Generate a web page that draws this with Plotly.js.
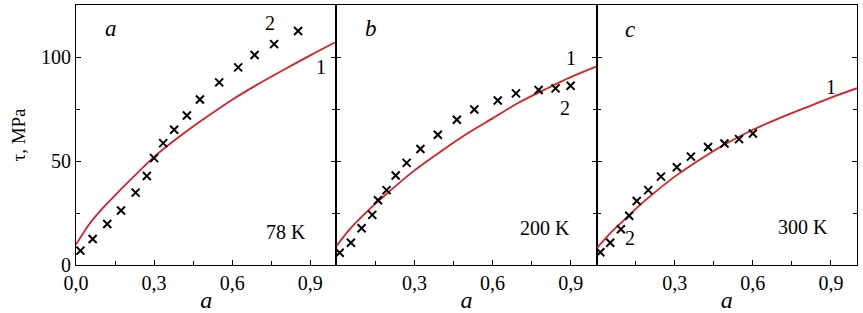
<!DOCTYPE html>
<html>
<head>
<meta charset="utf-8">
<script src="https://cdn.plot.ly/plotly-3.0.1.min.js"></script>
<style>html,body{margin:0;padding:0;background:#fff;}#chart{width:863px;height:313px;}</style>
</head>
<body>
<div id="chart"></div>
<script>
// Curve 1 (model), panel a: 78 K
const curveA_x = [0, 0.05, 0.1, 0.15, 0.2, 0.3, 0.4, 0.5, 0.6, 0.7, 0.8, 0.9, 1.0];
const curveA_y = [9.8, 19.5, 27, 33.5, 39.8, 52, 62, 71, 79.5, 87, 94, 100.8, 107.3];
// Curve 2 (experiment), panel a
const ptsA_x = [0.017, 0.064, 0.12, 0.173, 0.229, 0.272, 0.30, 0.335, 0.377, 0.426, 0.476, 0.55, 0.623, 0.686, 0.761, 0.853];
const ptsA_y = [6.9, 12.5, 19.7, 26.2, 34.8, 42.8, 51.4, 58.6, 65, 71.9, 79.6, 87.8, 95, 101, 106.2, 112.5];

// panel b: 200 K
const curveB_x = [0, 0.05, 0.1, 0.15, 0.2, 0.3, 0.4, 0.5, 0.6, 0.7, 0.8, 0.9, 1.0];
const curveB_y = [9, 17, 23.5, 29.5, 35, 45.5, 54.5, 63, 70.5, 78, 84.3, 90.3, 95.5];
const ptsB_x = [0.013, 0.056, 0.097, 0.138, 0.160, 0.193, 0.228, 0.270, 0.323, 0.39, 0.463, 0.53, 0.62, 0.69, 0.777, 0.842, 0.90];
const ptsB_y = [5.9, 10.7, 17.7, 24.1, 31.1, 36, 43, 49.1, 55.8, 62.6, 69.8, 74.8, 79.1, 82.5, 84.1, 84.9, 86.2];

// panel c: 300 K
const curveC_x = [0, 0.05, 0.1, 0.15, 0.2, 0.3, 0.4, 0.5, 0.6, 0.7, 0.8, 0.9, 1.0];
const curveC_y = [8, 15, 21, 27, 32.5, 42.5, 51, 58.5, 65, 70.5, 75.5, 80.5, 85];
const ptsC_x = [0.014, 0.052, 0.093, 0.125, 0.154, 0.198, 0.247, 0.308, 0.362, 0.428, 0.491, 0.547, 0.6];
const ptsC_y = [6.1, 10.7, 17.2, 23.7, 30.8, 36, 42.5, 47, 52.1, 56.7, 58.4, 60.5, 63.2];

const xTickVals = [0, 0.3, 0.6, 0.9];
const xTickText = ['0,0', '0,3', '0,6', '0,9'];
const yTickVals = [0, 50, 100];
const yTickText = ['0', '50', '100'];

const FONT = 'Liberation Serif';
const RED = 'rgb(222,30,38)';

function lineTrace(x, y, n) {
  return {x: x, y: y, mode: 'lines', line: {color: RED, width: 1.8, shape: 'spline', smoothing: 0.8},
          xaxis: 'x' + n, yaxis: 'y' + n, showlegend: false, hoverinfo: 'skip'};
}
function ptsTrace(x, y, n) {
  return {x: x, y: y, mode: 'markers',
          marker: {symbol: 'x-thin', size: 8, color: '#000', line: {color: '#000', width: 2}},
          xaxis: 'x' + n, yaxis: 'y' + n, showlegend: false, hoverinfo: 'skip'};
}

const data = [
  lineTrace(curveA_x, curveA_y, ''), ptsTrace(ptsA_x, ptsA_y, ''),
  lineTrace(curveB_x, curveB_y, '2'), ptsTrace(ptsB_x, ptsB_y, '2'),
  lineTrace(curveC_x, curveC_y, '3'), ptsTrace(ptsC_x, ptsC_y, '3')
];

function xAxis(dom, anchor, first) {
  return {
    domain: dom, anchor: anchor, range: [0, 1], showgrid: false, zeroline: false,
    showline: true, mirror: true, linecolor: '#000', linewidth: 1,
    ticks: 'inside', ticklen: 5, tickwidth: 1, tickcolor: '#000',
    tickvals: first ? xTickVals : xTickVals.slice(1),
    ticktext: first ? xTickText : xTickText.slice(1),
    minor: {tickvals: [0.15, 0.45, 0.75], ticks: 'inside', ticklen: 4, tickcolor: '#000', tickwidth: 1},
    tickfont: {family: FONT, size: 20, color: '#000'},
    title: {text: '<i>a</i>', font: {family: FONT, size: 24, color: '#000'}, standoff: 0}
  };
}
function yAxis(anchor, first) {
  const ax = {
    anchor: anchor, domain: [0, 1], range: [0, 125], showgrid: false, zeroline: false,
    showline: true, mirror: 'ticks', linecolor: '#000', linewidth: 1,
    ticks: 'inside', ticklen: 5, tickwidth: 1, tickcolor: '#000',
    tickvals: yTickVals, ticktext: yTickText,
    minor: {tickvals: [25, 75, 125], ticks: 'inside', ticklen: 4, tickcolor: '#000', tickwidth: 1},
    showticklabels: first,
    tickfont: {family: FONT, size: 20, color: '#000'}
  };
  if (first) ax.title = {text: 'τ, MPa', font: {family: FONT, size: 19, color: '#000'}, standoff: 10};
  return ax;
}

function ann(xref, yref, x, y, text, italic, size) {
  return {xref: xref, yref: yref, x: x, y: y, text: italic ? '<i>' + text + '</i>' : text,
          showarrow: false, font: {family: FONT, size: size || 20, color: '#000'}};
}

const layout = {
  width: 863, height: 313,
  margin: {l: 76, r: 6, t: 5, b: 48},
  paper_bgcolor: '#fff', plot_bgcolor: '#fff',
  font: {family: FONT, color: '#000'},
  xaxis: xAxis([0, 1/3], 'y', true),
  xaxis2: xAxis([1/3, 2/3], 'y2', false),
  xaxis3: xAxis([2/3, 1], 'y3', false),
  yaxis: yAxis('x', true),
  yaxis2: yAxis('x2', false),
  yaxis3: yAxis('x3', false),
  annotations: [
    ann('x', 'y', 0.133, 113.5, 'a', true, 23),
    ann('x', 'y', 0.746, 116.2, '2', false),
    ann('x', 'y', 0.941, 95.3, '1', false),
    ann('x', 'y', 0.806, 16, '78 K', false),
    ann('x2', 'y2', 0.135, 113.5, 'b', true, 23),
    ann('x2', 'y2', 0.90, 99.4, '1', false),
    ann('x2', 'y2', 0.878, 75.3, '2', false),
    ann('x2', 'y2', 0.801, 17.9, '200 K', false),
    ann('x3', 'y3', 0.129, 113, 'c', true, 23),
    ann('x3', 'y3', 0.129, 12.8, '2', false),
    ann('x3', 'y3', 0.901, 85.7, '1', false),
    ann('x3', 'y3', 0.793, 18.4, '300 K', false)
  ]
};

Plotly.newPlot('chart', data, layout, {staticPlot: true}).then(function () {
  document.querySelectorAll('#chart svg text').forEach(function (t) {
    t.style.fontFamily = '"Liberation Serif", serif';
  });
});
</script>
</body>
</html>
